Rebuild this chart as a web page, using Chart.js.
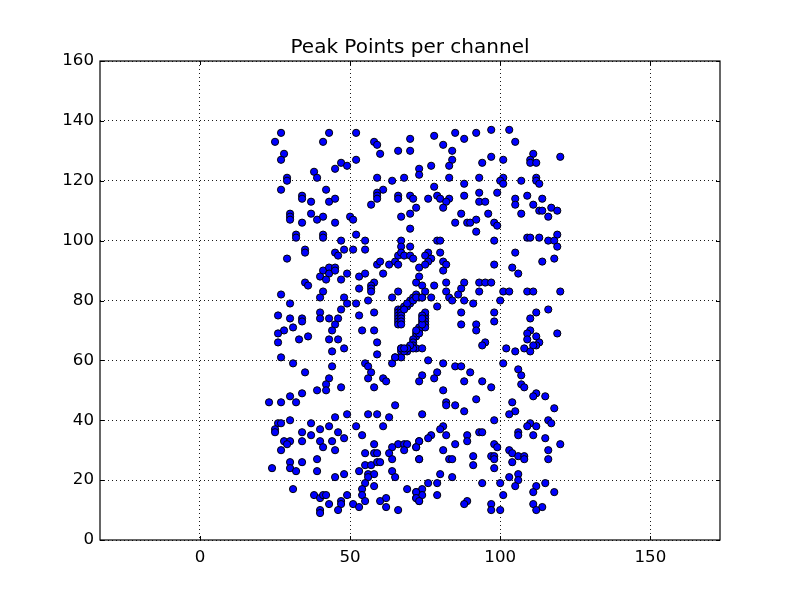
<!DOCTYPE html>
<html><head><meta charset="utf-8">
<script src="https://cdn.jsdelivr.net/npm/chart.js@4"></script>
<style>html,body{margin:0;padding:0;background:#fff}canvas{display:block}</style>
</head><body><canvas id="c" width="800" height="600"></canvas>
<script>
const chartTitle = "Peak Points per channel";
const xTicks = [0,50,100,150];
const yTicks = [0,20,40,60,80,100,120,140,160];
const xA=[27,25,28,27,29,29,27,34,34,37,30,30,30,34,37,39,41,45,32,32,41,41,47,43,41,52,58,59,60,52,47,49,45,38,39,42,43,45,50,51,52,55,59,61,64,68,59,59,59,57,66,66,70,71,72,70,67,70,67,67,70,66,70,70,73,73];
const yA=[136,133,129,127,121,120,117,115,114,113,109,108,107,106,109,107,108,106,102,101,102,101,100,136,133,136,133,132,129,127,126,125,124,123,121,117,113,114,108,107,102,100,121,117,120,121,116,115,114,112,115,114,115,114,111,109,108,104,100,98,98,130,130,134,124,122];
const xB=[78,81,85,88,92,97,103,105,84,84,83,77,83,88,78,93,94,97,101,101,100,101,107,111,110,110,112,120,112,112,113,79,80,83,82,76,81,87,85,89,90,92,92,88,93,93,95,96,98,99,99,105,105,109,111,114,107,113,114,117,119,116,119,109,110,113,116,118,119,98,79,80,105,76,80];
const yB=[135,132,136,134,136,137,137,133,130,127,125,125,121,119,118,121,126,128,127,121,120,119,120,129,127,126,126,128,121,120,119,115,114,114,113,114,111,109,106,106,106,107,103,115,116,113,113,109,106,105,116,114,112,115,112,114,109,110,110,111,110,108,102,101,101,101,100,100,98,100,100,100,96,96,96];
const xC=[29,35,35,45,46,48,51,55,41,43,43,45,45,40,42,47,49,35,36,53,55,59,60,61,63,65,66,66,67,68,70,71,73,58,57,57,57,53,41,40,48,49,52,56,66,64,72];
const yC=[94,97,96,96,95,97,97,97,90,91,89,91,90,88,87,87,89,86,85,88,89,92,93,89,92,93,92,95,96,95,95,94,91,86,85,84,83,84,83,81,81,79,79,80,83,81,86];
const xD=[27,30,26,30,34,34,31,28,26,26,33,36,40,40,43,46,47,45,44,43,46,44,48,53,58,54,58,59,59,27,31,35,44,43,42,39,42,47,55,56,57,56,61,62,58,64,65,67,67,67];
const yD=[82,79,75,74,74,73,71,70,69,66,67,68,76,74,74,74,77,72,70,67,67,63,64,75,76,70,70,66,62,61,59,56,58,54,52,50,50,51,59,58,56,54,54,53,51,59,61,64,63,61];
const xE=[66,66,66,66,66,66,67,67,67,67,67,67,68,69,70,70,71,72,73,74,75,75,75,75,75,75,74,74,73,73,72,72,71,71,71,70,69,68,67,65,72,71,70,69,68,69,71,72,68,74,74,73,72];
const yE=[77,76,75,74,73,72,77,76,75,74,73,72,78,78,79,80,81,82,81,81,75,74,73,72,71,76,75,73,71,70,69,68,67,66,65,64,63,63,64,61,64,64,65,64,64,79,80,81,77,72,74,69,70];
const xF=[81,82,81,73,74,75,78,82,88,87,86,82,83,84,88,91,77,74,79,93,95,97,93,101,103,109,111,120,100,116,112,110,87,98,98,87,92,92,119,110,109,112,109,113,112,111,95,94,102,105,108,110,74,98,104,106,114,118,75,77,76,75];
const yF=[93,92,90,88,85,83,85,86,86,84,82,83,81,80,80,79,81,81,78,86,86,86,83,83,83,83,83,83,80,77,76,74,76,76,73,72,72,70,69,70,69,68,67,66,65,65,66,65,64,63,64,63,64,92,91,89,93,94,95,94,93,92];
const xG=[76,81,85,87,101,106,107,107,108,90,79,74,73,78,88,94,97,81];
const yG=[60,59,58,58,59,57,55,52,51,56,56,55,53,54,53,53,51,50];
const xH=[23,27,30,32,34,65,49,45,56,59,63,61,52,54,26,27,25,25,30,37,34,37,40,43,46,48,28,30,29,34,27,40,44,41,45,58,73,66,68,69,64,72,68,63,55,58,59,64,73];
const yH=[46,46,48,46,49,45,42,41,42,42,41,38,38,35,39,39,37,36,40,39,36,35,37,38,36,34,33,33,32,33,30,33,33,31,30,32,33,32,32,32,31,31,30,29,29,29,29,27,27];
const xI=[39,30,30,34,24,32,39,45,48,53,55,57,59,60,56,58,56,64,65,55,58,54,54,31,38,40,41,42,49,43,47,47,40,40,46,51,53,55,60,62,62,66,69,72,72,73];
const yI=[27,26,24,26,24,23,23,21,22,23,25,25,26,26,22,22,21,23,21,19,18,17,15,17,15,14,15,15,15,12,13,12,10,9,10,12,11,13,13,14,11,10,17,16,14,13];
const xJ=[112,111,115,82,82,85,92,88,104,118,105,103,74,98,81,80,82,77,76,73,72,89,89,93,94,85,81,73,83,84,91,91,98,99,97,98,98,98,103,104,106,108,108,104,116,116,115,120,110,109,112,116,117,106,106,111];
const yJ=[49,48,48,46,45,45,47,43,46,44,43,42,42,40,38,37,35,35,34,33,31,35,33,36,36,32,30,27,27,27,28,25,32,31,28,28,27,24,30,29,28,28,27,26,30,27,34,32,39,38,38,40,39,36,35,35];
const xK=[80,84,76,79,94,100,103,106,106,105,112,115,111,118,101,79,74,74,72,72,73,89,88,97,97,100,111,114,112];
const yK=[22,21,19,19,19,19,21,22,20,18,18,19,16,16,15,15,17,15,16,14,13,13,12,12,10,10,12,11,10];
const peakX=[...xA,...xB,...xC,...xD,...xE,...xF,...xG,...xH,...xI,...xJ,...xK];
const peakY=[...yA,...yB,...yC,...yD,...yE,...yF,...yG,...yH,...yI,...yJ,...yK];

const frame = {
  id:'frame',
  afterDatasetsDraw(chart){
    const {ctx, chartArea:a, scales:{x,y}} = chart;
    ctx.save();
    ctx.strokeStyle='#000'; ctx.lineWidth=1; ctx.setLineDash([]);
    ctx.beginPath();
    xTicks.forEach(v=>{const p=Math.round(x.getPixelForValue(v))+.5;
      ctx.moveTo(p,a.bottom);ctx.lineTo(p,a.bottom-4);ctx.moveTo(p,a.top);ctx.lineTo(p,a.top+4);});
    yTicks.forEach(v=>{const p=Math.round(y.getPixelForValue(v))+.5;
      ctx.moveTo(a.left,p);ctx.lineTo(a.left+4,p);ctx.moveTo(a.right,p);ctx.lineTo(a.right-4,p);});
    ctx.stroke();
    ctx.lineWidth=1.2;
    ctx.strokeRect(a.left,a.top,a.right-a.left,a.bottom-a.top);
    ctx.restore();
  }
};
const gridOpts = {color:'#000', lineWidth:0.9, tickLength:0, drawTicks:false};
new Chart(document.getElementById('c'),{
  type:'scatter',
  data:{datasets:[{data:peakX.map((x,i)=>({x,y:peakY[i]})), backgroundColor:'#0000ff', borderColor:'#000', borderWidth:1, pointRadius:3.6, pointHoverRadius:3.6, clip:false}]},
  plugins:[frame],
  options:{
    responsive:false, animation:false, devicePixelRatio:1,
    layout:{padding:{right:80,bottom:0}},
    events:[],
    plugins:{legend:{display:false},tooltip:{enabled:false},
      title:{display:true,fullSize:false,text:chartTitle,color:'#000',font:{family:'DejaVu Sans',size:20,weight:'normal'},padding:{top:36,bottom:1}}},
    scales:{
      x:{type:'linear',min:-33.3,max:173.2,
        afterBuildTicks(s){s.ticks=xTicks.map(value=>({value}));},
        afterFit(s){s.height=60;},
        grid:{...gridOpts},
        border:{display:false,dash:[1,3]},
        ticks:{color:'#000',font:{family:'DejaVu Sans',size:16.67},padding:8,maxRotation:0,callback:v=>String(v)}},
      y:{type:'linear',min:0,max:160,
        afterBuildTicks(s){s.ticks=yTicks.map(value=>({value}));},
        afterFit(s){s.width=100;},
        grid:{...gridOpts},
        border:{display:false,dash:[1,3]},
        ticks:{color:'#000',font:{family:'DejaVu Sans',size:16.67},padding:6,callback:v=>String(v)}}
    }
  }
});
</script></body></html>
